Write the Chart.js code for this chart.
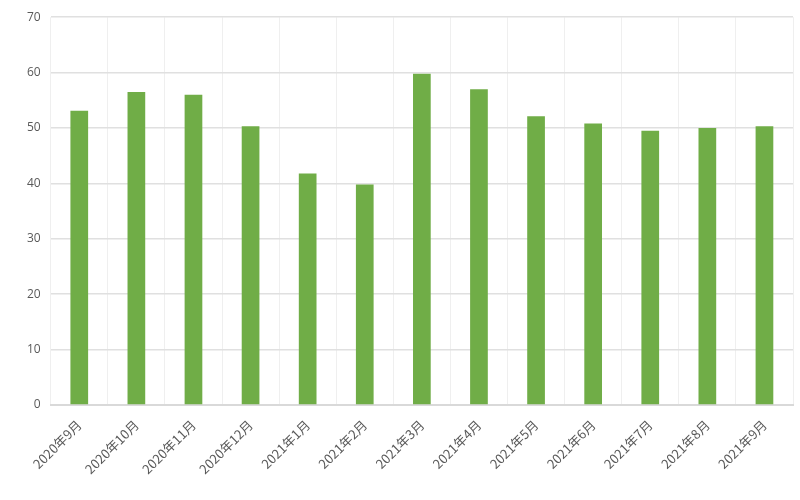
<!DOCTYPE html>
<html>
<head>
<meta charset="utf-8">
<script src="https://cdn.jsdelivr.net/npm/chart.js@4"></script>
<style>
  html, body { margin: 0; padding: 0; background: #fff; }
  .js-chart { width: 800px; height: 500px; }
</style>
</head>
<body>
<div class="js-chart"><canvas id="barChart"></canvas></div>
<script>
const months = ["2020年9月", "2020年10月", "2020年11月", "2020年12月", "2021年1月", "2021年2月",
  "2021年3月", "2021年4月", "2021年5月", "2021年6月", "2021年7月", "2021年8月", "2021年9月"];
const values = [53.1, 56.5, 56.0, 50.3, 41.8, 39.8, 59.8, 57.0, 52.1, 50.8, 49.5, 50.0, 50.3];
const yTicks = [0, 10, 20, 30, 40, 50, 60, 70];

const drawChart = function () {
  let ctx = document.getElementById("barChart").getContext("2d");
  let config = {
    type: "bar",
    data: {
      labels: months,
      datasets: [
        {
          data: values,
          backgroundColor: "#70ad47",
          barPercentage: 0.62,
          categoryPercentage: 0.5
        }
      ]
    },
    options: {
      responsive: true,
      maintainAspectRatio: false,
      animation: false,
      layout: { padding: { left: 17, right: 7, top: 7, bottom: 11 } },
      scales: {
        x: {
          grid: { color: "#efefef", drawTicks: false },
          border: { color: "#d9d9d9", width: 2 },
          ticks: {
            color: "#595959",
            font: { family: "'Noto Sans CJK SC', 'Open Sans'", size: 13 },
            minRotation: 45,
            maxRotation: 45,
            padding: 12
          }
        },
        y: {
          min: 0,
          max: yTicks[yTicks.length - 1],
          grid: { color: "#e0e0e0", lineWidth: 1.5, drawTicks: false },
          border: { display: false },
          afterBuildTicks: function (axis) {
            axis.ticks = yTicks.map(v => ({ value: v }));
          },
          ticks: {
            color: "#595959",
            font: { family: "'Open Sans'", size: 12 },
            padding: 10
          }
        }
      },
      plugins: {
        legend: { display: false },
        title: { display: false },
        tooltip: { enabled: false }
      }
    }
  };
  new Chart(ctx, config);
};

document.addEventListener("DOMContentLoaded", function () {
  drawChart();
});
</script>
</body>
</html>
